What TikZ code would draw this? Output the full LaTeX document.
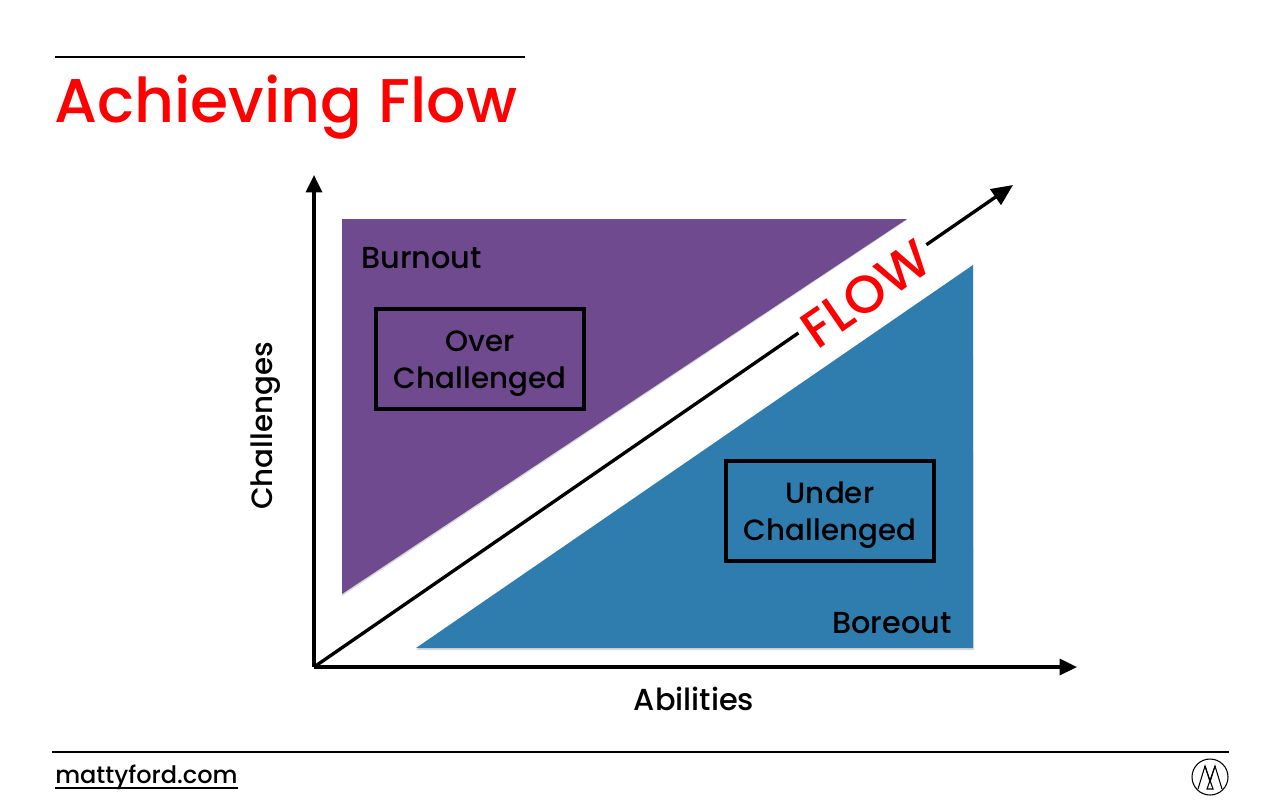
\documentclass[tikz,border=0pt]{standalone}
\usepackage{fontspec}
\setmainfont{Poppins Medium}
\usetikzlibrary{arrows.meta}
\definecolor{burnoutpurple}{HTML}{704A8F}
\definecolor{boreoutblue}{HTML}{2F7DAE}
\definecolor{flowred}{HTML}{FE0000}
\tikzset{
	axisline/.style = {line width=2.5pt, -{Triangle[length=13pt,width=12pt]}},
	flowline/.style = {line width=2.5pt, -{Triangle[length=16pt,width=14pt]}},
	ruleline/.style = {line width=1.4pt},
	zonebox/.style = {draw, line width=2.3pt, minimum width=156pt, minimum height=75pt, inner sep=0pt},
	zonetext/.style = {align=center, font=\fontsize{22}{27.7}\selectfont, inner sep=0pt},
	zonelabel/.style = {font=\fontsize{22.8}{26}\selectfont, inner sep=0pt},
	zoneedge/.style = {black!15},
	logoline/.style = {line width=0.8pt}
}
\begin{document}
\begin{tikzpicture}[x=0.75pt, y=-0.75pt]
	%\draw[help lines, step=100] (0,0) grid (1280,800);
	\useasboundingbox (0,0) rectangle (1280,800);

	% title and footer
	\coordinate (titleL) at (55,57);
	\coordinate (titleR) at (525,57);
	\coordinate (footL) at (52,752);
	\coordinate (footR) at (1229,752);
	\draw[ruleline] (titleL) -- (titleR);
	\draw[ruleline] (footL) -- (footR);
	\node[anchor=west, inner sep=0pt, text=flowred, font=\fontsize{46.3}{58}\selectfont] (title) at (54,107) {Achieving Flow};
	\node[anchor=west, inner sep=0pt, font=\fontsize{18}{20}\selectfont] (site) at (55,777) {mattyford.com};
	\draw[line width=1pt] ([yshift=-3.5pt]site.base west) -- ([yshift=-3.5pt]site.base east);

	% zones
	\fill[zoneedge] (342,220) -- (907,220) -- (342,596) -- cycle;
	\fill[zoneedge] (416,650) -- (973,266) -- (974,650) -- cycle;
	\fill[burnoutpurple] (342,219) -- (907,219) -- (342,594) -- cycle;
	\fill[boreoutblue] (416,648) -- (973,265) -- (973,648) -- cycle;

	% axes
	\coordinate (origin) at (314,667);
	\coordinate (top) at (314,175);
	\coordinate (right) at (1077,667);
	\coordinate (flowend) at (1013,185);
	\draw[axisline] (origin) -- (top);
	\draw[axisline] (origin) -- (right);
	\draw[flowline] (origin) -- (flowend);
	\node[fill=white, text=flowred, rotate=34.6, inner sep=4pt, font=\fontsize{39.5}{46}\selectfont] (flow) at (866,294) {FLOW};

	\node[zonelabel, anchor=west] (burnout) at (361,258) {Burnout};
	\node[zonelabel, anchor=east] (boreout) at (952,623) {Boreout};
	\node[zonebox] (over) at (480,359) {};
	\node[zonebox] (under) at (830,511) {};
	\node[zonetext] (overtext) at (480,364) {Over\\Challenged};
	\node[zonetext] (undertext) at (830,515) {Under\\Challenged};

	\node[zonelabel] (abilities) at (694,699) {Abilities};
	\node[zonelabel, rotate=90, font=\fontsize{22}{26}\selectfont] (challenges) at (266,426) {Challenges};

	% logo
	\node[draw, circle, logoline, minimum size=27pt, inner sep=0pt] (logo) at (1210,777) {};
	\coordinate (m1) at (1198,789);
	\coordinate (m2) at (1205,766);
	\coordinate (m3) at (1210,782);
	\coordinate (m4) at (1215,766);
	\coordinate (m5) at (1222,789);
	\draw[logoline] (m1) -- (m2) -- (m3) -- (m4) -- (m5);
	\draw[logoline] (m2) -- (1213,789) -- (1207,789) -- (m4);
\end{tikzpicture}
\end{document}
